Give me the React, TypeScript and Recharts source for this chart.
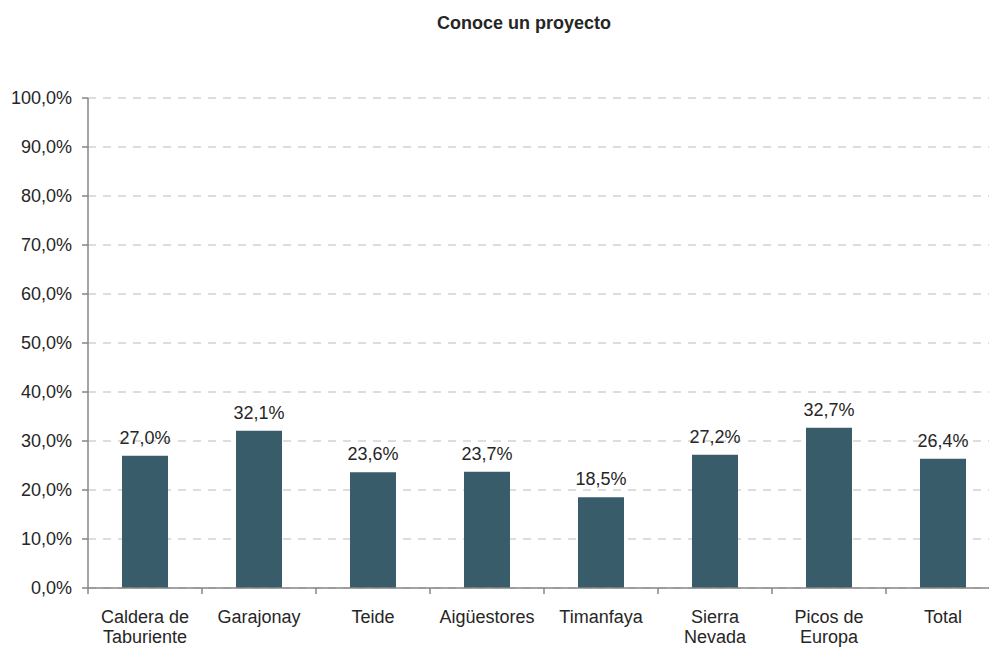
import { BarChart, Bar, XAxis, YAxis, CartesianGrid, LabelList } from 'recharts';

const categories = [
  'Caldera de\nTaburiente',
  'Garajonay',
  'Teide',
  'Aigüestores',
  'Timanfaya',
  'Sierra\nNevada',
  'Picos de\nEuropa',
  'Total',
];

const conoce = [27.0, 32.1, 23.6, 23.7, 18.5, 27.2, 32.7, 26.4];

const yTicks = [0, 10, 20, 30, 40, 50, 60, 70, 80, 90, 100];

const data = categories.map((name, i) => ({ name, value: conoce[i] }));

const FONT = '"Liberation Sans", Arial, sans-serif';
const TEXT = '#262626';
const AXIS = '#868686';
const BAR = '#395C6B';

const CHART_W = 1000;
const CHART_H = 647;
const MARGIN = { top: 98, right: 0, left: 8, bottom: 0 };
const Y_W = 80;

const pct = (v: number) => `${v.toFixed(1).replace('.', ',')}%`;

function CategoryTick(props: any) {
  const { x, y, payload } = props;
  const band = (CHART_W - MARGIN.left - MARGIN.right - Y_W) / categories.length;
  const lines = String(payload.value).split('\n');
  return (
    <g>
      <line x1={x - band / 2} y1={y} x2={x - band / 2} y2={y + 6} stroke={AXIS} strokeWidth={1.5} />
      <text x={x} y={y} textAnchor="middle" fill={TEXT} fontSize={18} fontFamily={FONT}>
        {lines.map((l, i) => (
          <tspan key={i} x={x} dy={i === 0 ? 35 : 20}>
            {l}
          </tspan>
        ))}
      </text>
    </g>
  );
}

export default function App() {
  return (
    <div
      style={{
        position: 'absolute',
        top: 0,
        left: 0,
        width: 989,
        height: 647,
        overflow: 'hidden',
        background: '#fff',
        fontFamily: FONT,
      }}
    >
      <div
        style={{
          position: 'absolute',
          top: 13,
          left: 0,
          width: 1048,
          textAlign: 'center',
          fontSize: 18,
          lineHeight: '20px',
          fontWeight: 'bold',
          color: TEXT,
        }}
      >
        Conoce un proyecto
      </div>
      <BarChart width={CHART_W} height={CHART_H} data={data} margin={MARGIN} barSize={46}>
        <CartesianGrid vertical={false} stroke="#BBBBBB" strokeDasharray="8 7" />
        <XAxis
          dataKey="name"
          height={59}
          interval={0}
          tickSize={0}
          tickMargin={0}
          tickLine={false}
          axisLine={{ stroke: AXIS, strokeWidth: 1.5 }}
          tick={<CategoryTick />}
        />
        <YAxis
          width={Y_W}
          domain={[0, 100]}
          ticks={yTicks}
          tickFormatter={pct}
          tickSize={6}
          tickMargin={10}
          axisLine={{ stroke: AXIS, strokeWidth: 1.5 }}
          tickLine={{ stroke: AXIS, strokeWidth: 1.5 }}
          tick={{ fill: TEXT, fontSize: 18, fontFamily: FONT }}
        />
        <Bar dataKey="value" fill={BAR} isAnimationActive={false}>
          <LabelList
            dataKey="value"
            position="top"
            offset={12}
            formatter={(v: any) => pct(Number(v))}
            fill={TEXT}
            fontSize={18}
            fontFamily={FONT}
          />
        </Bar>
      </BarChart>
    </div>
  );
}
